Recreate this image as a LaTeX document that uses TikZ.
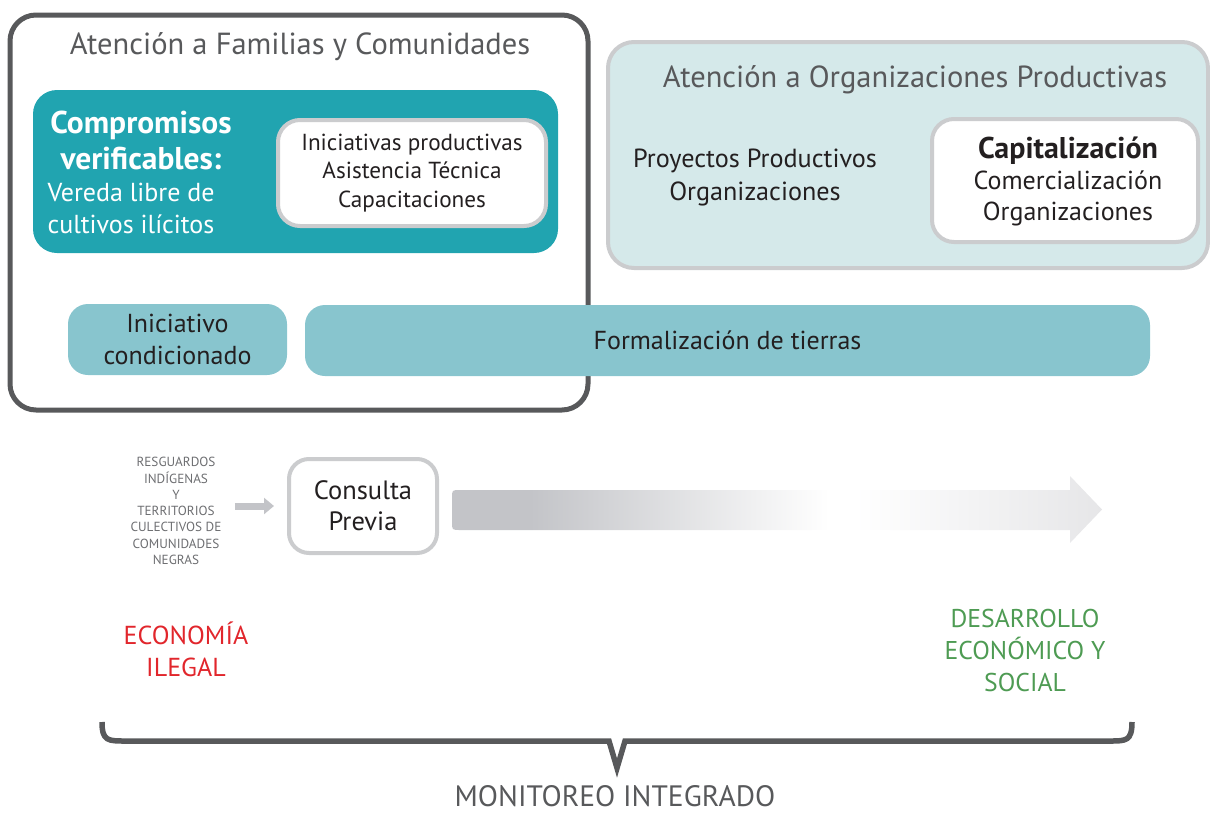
\documentclass[tikz,border=0pt]{standalone}
\usepackage{fontspec}
\setmainfont{PT Sans}
\usetikzlibrary{arrows.meta}
\definecolor{dgray}{HTML}{58595B}
\definecolor{sgray}{HTML}{6D6E71}
\definecolor{teal1}{HTML}{21A4B0}
\definecolor{lteal}{HTML}{88C5CE}
\definecolor{pteal}{HTML}{D5E9EA}
\definecolor{bgray}{HTML}{CBCCCE}
\definecolor{agray}{HTML}{C3C4C8}
\definecolor{aend}{HTML}{E6E6E8}
\definecolor{redt}{HTML}{E1262C}
\definecolor{greent}{HTML}{4E9B53}
\definecolor{txt}{HTML}{231F20}
\pgfdeclarehorizontalshading{arrowshade}{100bp}{color(0bp)=(agray); color(25bp)=(agray); color(31bp)=(agray); color(54bp)=(white); color(56bp)=(white); color(75bp)=(aend); color(100bp)=(aend)}
\newcommand{\fs}[2]{\fontsize{#1}{#2}\selectfont}
\tikzset{
  whitebox/.style={draw=bgray, fill=white, line width=4pt, rounded corners=22pt},
  lightbox/.style={fill=lteal, rounded corners=20pt, text=txt, align=center, font=\fs{26}{32}},
  title/.style={text=dgray, font=\fs{30.5}{34}},
}
\begin{document}
\begin{tikzpicture}[x=1pt,y=-1pt]
\useasboundingbox (0,0) rectangle (1210,814);
% left frame
\node[draw=dgray, line width=5pt, rounded corners=26pt, minimum width=578pt, minimum height=395pt] (fam) at (299,212.5) {};
\node[title] (famt) at (300,47) {Atención a Familias y Comunidades};
\node[fill=teal1, rounded corners=24pt, minimum width=525pt, minimum height=163pt] (comp) at (295.5,171.5) {};
\node[text=white, align=center, font=\fs{31.5}{36}\bfseries] (compt) at (141,140) {Compromisos\\verificables:};
\node[text=white, align=left, anchor=west, font=\fs{26}{32}] (vereda) at (44,208) {Vereda libre de\\cultivos ilícitos};
\node[whitebox, minimum width=268pt, minimum height=106pt, align=center, text=txt, font=\fs{23.2}{28.5}] (inic) at (412,173) {Iniciativas productivas\\Asistencia Técnica\\Capacitaciones};
\node[lightbox, minimum width=219pt, minimum height=71pt] (inc) at (177.5,339.5) {Iniciativo\\condicionado};
\node[lightbox, minimum width=845pt, minimum height=71pt] (form) at (727.5,340.5) {Formalización de tierras};
% right frame
\node[draw=bgray, fill=pteal, line width=4pt, rounded corners=26pt, minimum width=600pt, minimum height=226pt] (org) at (908,155) {};
\node[title] (orgt) at (915,80) {Atención a Organizaciones Productivas};
\node[text=txt, align=center, font=\fs{26.2}{33}] (proy) at (755,177) {Proyectos Productivos\\Organizaciones};
\node[whitebox, minimum width=266pt, minimum height=123pt] (capb) at (1065,180.5) {};
\node[text=txt, align=center, font=\fs{26}{31}] (capt) at (1068,181) {{\fs{30}{31}\bfseries Capitalización}\\Comercialización\\Organizaciones};
% middle
\node[text=sgray, align=center, font=\fs{13.2}{16.3}] (resg) at (176,511) {RESGUARDOS\\INDÍGENAS\\Y\\TERRITORIOS\\CULECTIVOS DE\\COMUNIDADES\\NEGRAS};
\node[whitebox, rounded corners=20pt, minimum width=148pt, minimum height=94pt, align=center, text=txt, font=\fs{26.5}{31}] (cons) at (363,506) {Consulta\\Previa};
\draw[agray, line width=7pt, -{Triangle[length=10pt,width=16pt]}, shorten <=10pt, shorten >=13pt] (resg.east |- cons.west) -- (cons.west);
\path[shading=arrowshade] (460,490) .. controls (452,490) .. (452,498) -- (452,522) .. controls (452,530) .. (460,530) -- (1070,530) -- (1070,543) -- (1102,509.5) -- (1070,476) -- (1070,490) -- cycle;
\node[text=redt, align=center, font=\fs{26}{32}] (eco) at (186,649) {ECONOMÍA\\ILEGAL};
\node[text=greent, align=center, font=\fs{25.7}{32}] (des) at (1025,650) {DESARROLLO\\ECONÓMICO Y\\SOCIAL};
% brace
\draw[dgray, line width=5.5pt, line join=miter] (102,722) .. controls (102,741) and (108,741) .. (125,741) -- (609,741) -- (617,768) -- (625,741) -- (1110,741) .. controls (1126,741) and (1132,741) .. (1132,722);
\node[text=dgray, inner sep=0pt, font=\fs{29.5}{32}] (mon) at (615,796) {MONITOREO INTEGRADO};
\end{tikzpicture}
\end{document}
